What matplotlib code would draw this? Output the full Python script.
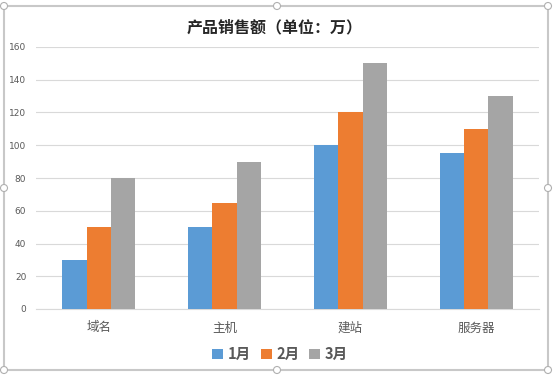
import matplotlib
matplotlib.use("Agg")
import matplotlib.pyplot as plt
import numpy as np
from matplotlib.patches import Rectangle, Ellipse

plt.rcParams['font.family'] = ['Noto Sans CJK SC', 'DejaVu Sans']

categories = ["域名", "主机", "建站", "服务器"]
series_names = ["1月", "2月", "3月"]
jan = [30, 50, 100, 95]
feb = [50, 65, 120, 110]
mar = [80, 90, 150, 130]
yticks = [0, 20, 40, 60, 80, 100, 120, 140, 160]
title = "产品销售额（单位：万）"

colors = ["#5B9BD5", "#ED7D31", "#A5A5A5"]
W, H = 554, 375
fig = plt.figure(figsize=(W / 100, H / 100), dpi=100)

ax = fig.add_axes([36 / W, 1 - 309 / H, (539 - 36) / W, (309 - 47) / H])
x = np.arange(len(categories))
bw = 0.193
for i, (vals, name, c) in enumerate(zip([jan, feb, mar], series_names, colors)):
    ax.bar(x + (i - 1) * bw, vals, width=bw, color=c, label=name, zorder=3)

ax.set_xlim(-0.5, len(categories) - 0.5)
ax.set_ylim(0, 160)
ax.set_yticks(yticks)
ax.set_yticklabels([str(v) for v in yticks], fontsize=6.5, color="#595959", family="DejaVu Sans")
ax.set_xticks(x)
ax.set_xticklabels(categories, fontsize=9, color="#595959")
ax.tick_params(axis="both", length=0)
ax.tick_params(axis="y", pad=7)
ax.tick_params(axis="x", pad=9)
ax.grid(axis="y", color="#D9D9D9", lw=0.8, zorder=0)
for s in ["top", "right", "left"]:
    ax.spines[s].set_visible(False)
ax.spines["bottom"].set_color("#D9D9D9")
ax.spines["bottom"].set_linewidth(0.8)

fig.text(275 / W, 1 - 27 / H, title, ha="center", va="center", fontsize=11.5,
         fontweight="bold", color="#262626")

handles, labels = ax.get_legend_handles_labels()
leg = fig.legend(handles, labels, loc="center", bbox_to_anchor=(280 / W, 1 - 354 / H),
                 ncol=3, frameon=False, prop={"size": 10.5, "weight": "bold"},
                 handlelength=0.75, handleheight=0.75, handletextpad=0.3, columnspacing=0.7)
for t in leg.get_texts():
    t.set_color("#595959")

# selection frame of the chart
fig.patches.append(Rectangle((4 / W, 1 - 370 / H), (548 - 4) / W, (370 - 6) / H,
                             transform=fig.transFigure, fill=False,
                             edgecolor="#C8C8C8", lw=1.5, zorder=5))
for (hx, hy) in [(4, 6), (277, 6), (548, 6), (4, 188), (548, 188),
                 (4, 370), (277, 370), (548, 370)]:
    fig.patches.append(Ellipse((hx / W, 1 - hy / H), 7 / W, 7 / H,
                               transform=fig.transFigure, facecolor="white",
                               edgecolor="#B0B0B0", lw=0.8, zorder=6))

fig.savefig("out.png", dpi=100)
